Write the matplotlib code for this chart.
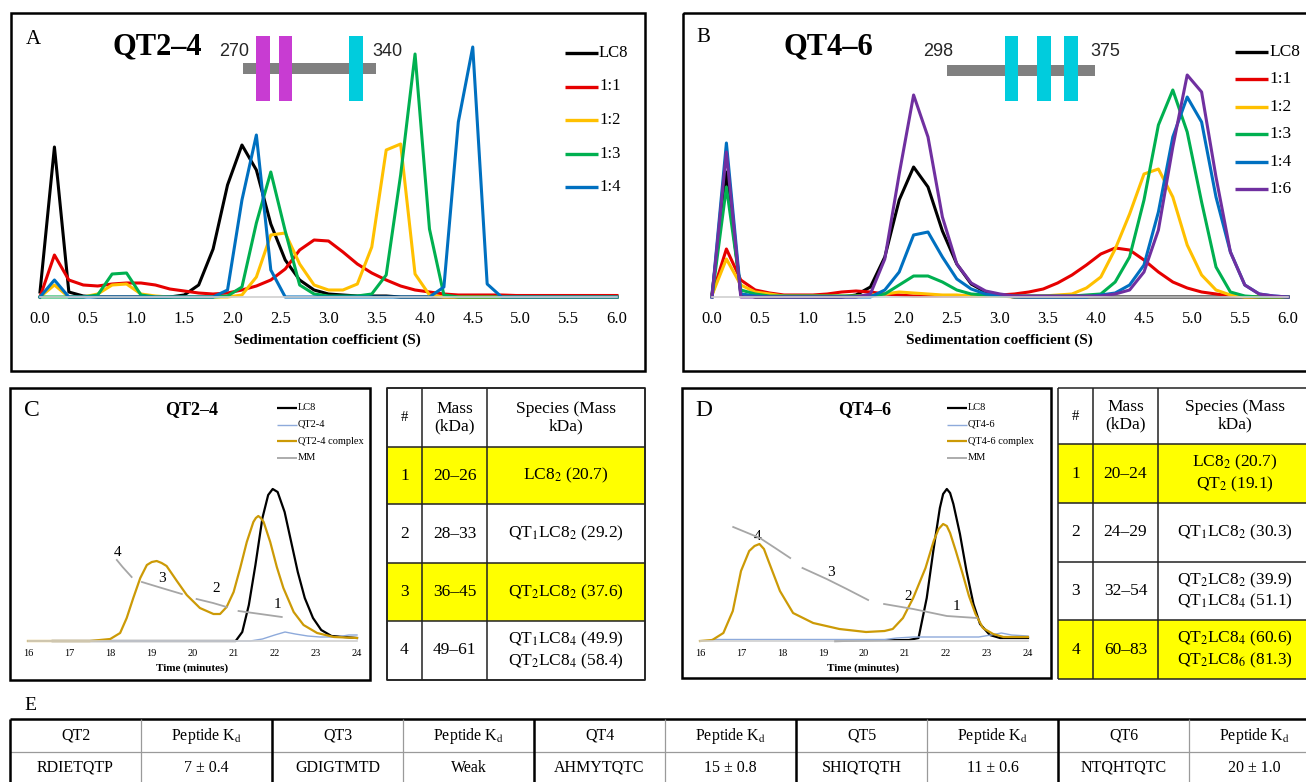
"""
LC8 / QT2-4, QT4-6 binding figure: AUC distributions (A, B), SEC-MALS traces
with species tables (C, D) and peptide affinity table (E)
"""
import numpy as np
import matplotlib
matplotlib.use('Agg')
import matplotlib.pyplot as plt
from matplotlib.patches import Rectangle

plt.rcParams['font.family'] = ['Liberation Serif', 'DejaVu Serif']
plt.rcParams['mathtext.fontset'] = 'stix'

W, H = 1306, 782
nan = np.nan

# ---------------- data: panels A and B (sedimentation coefficient, S) ----------------
sed_s = [0.0, 0.15, 0.3, 0.45, 0.6, 0.75, 0.9, 1.05, 1.2, 1.35,
         1.5, 1.65, 1.8, 1.95, 2.1, 2.25, 2.4, 2.55, 2.7, 2.85,
         3.0, 3.15, 3.3, 3.45, 3.6, 3.75, 3.9, 4.05, 4.2, 4.35,
         4.5, 4.65, 4.8, 4.95, 5.1, 5.25, 5.4, 5.55, 5.7, 5.85, 6.0]
sed_ticks = [0.0, 0.5, 1.0, 1.5, 2.0, 2.5, 3.0, 3.5, 4.0, 4.5, 5.0, 5.5, 6.0]

a_lc8 = [5, 150, 5, 1, 0, 0, 0, 0, 0, 0,
         2, 12, 48, 112, 152, 127, 73, 37, 17, 7,
         3, 2, 1, 1, 1, 0, 0, 0, 0, 0,
         0, 0, 0, 0, 0, 0, 0, 0, 0, 0, 0]
a_r11 = [0, 42, 17, 12, 11, 13, 14, 14, 12, 8,
         6, 4, 3, 4, 7, 11, 17, 28, 47, 57,
         56, 45, 33, 24, 17, 11, 7, 5, 3, 2,
         2, 2, 2, 1.5, 1.5, 1.5, 1.5, 1.5, 1.5, 1.5, 1.5]
a_r12 = [0, 12, 0, 0, 3, 12, 13, 3, 1, 0,
         0, 0, 0, 0, 2, 20, 62, 64, 33, 12,
         7, 7, 13, 50, 147, 153, 23, 2, 0, 0,
         0, 0, 0, 0, 0, 0, 0, 0, 0, 0, 0]
a_r13 = [0, 0, 0, 0, 2, 23, 24, 2, 0, 0,
         0, 0, 0, 1, 10, 74, 125, 66, 12, 3,
         1, 1, 1, 3, 22, 122, 243, 68, 2, 0,
         0, 0, 0, 0, 0, 0, 0, 0, 0, 0, 0]
a_r14 = [0, 17, 0, 0, 0, 0, 0, 0, 0, 0,
         0, 0, 0, 7, 97, 162, 27, 0, 0, 0,
         0, 0, 0, 0, 0, 0, 0, 0, 10, 175,
         250, 13, 0, 0, 0, 0, 0, 0, 0, 0, 0]
a_labels = ['LC8', '1:1', '1:2', '1:3', '1:4']

b_lc8 = [3, 125, 3, 0, 0, 0, 0, 0, 0, 0,
         2, 10, 40, 97, 130, 110, 66, 33, 13, 5,
         2, 0, 0, 0, 0, 0, 0, 0, 0, 0,
         0, 0, 0, 0, 0, 0, 0, 0, 0, 0, 0]
b_r11 = [2, 48, 17, 7, 4, 2, 2, 2, 3, 5,
         6, 5, 3, 2, 1, 1, 1, 1, 1, 1,
         2, 3, 5, 8, 14, 22, 32, 43, 49, 47,
         37, 25, 15, 9, 5, 3, 1, 0.5, 0, 0, 0]
b_r12 = [2, 38, 12, 5, 3, 1, 1, 1, 1, 1,
         1, 2, 3, 5, 4, 3, 2, 2, 1, 1,
         1, 0, 1, 1, 2, 3, 9, 20, 48, 83,
         123, 128, 100, 52, 22, 7, 2, 0, 0, 0, 0]
b_r13 = [0, 110, 7, 3, 1, 1, 1, 1, 1, 1,
         1, 1, 3, 12, 21, 21, 15, 7, 3, 2,
         1, 1, 1, 1, 1, 1, 2, 3, 15, 40,
         97, 172, 207, 165, 95, 30, 5, 1, 0, 0, 0]
b_r14 = [0, 154, 3, 1, 0, 0, 0, 0, 0, 0,
         0, 0, 7, 25, 62, 65, 40, 18, 8, 3,
         2, 0, 0, 0, 0, 0, 0, 2, 4, 12,
         32, 85, 160, 200, 175, 100, 45, 12, 3, 1, 0]
b_r16 = [0, 145, 0, 0, 0, 0, 0, 0, 0, 0,
         0, 3, 38, 123, 202, 160, 80, 33, 14, 6,
         3, 1, 1, 1, 1, 1, 1, 1, 3, 7,
         25, 67, 150, 222, 205, 120, 45, 12, 3, 1, 0]
b_labels = ['LC8', '1:1', '1:2', '1:3', '1:4', '1:6']

ratio_colors = ['#000000', '#e60000', '#ffc000', '#00b050', '#0070c0', '#7030a0']

# construct schematics (residue numbers)
qt24_span = [270, 340]
qt24_motifs = [277, 289, 326]
qt24_motif_colors = ['#c83cd2', '#c83cd2', '#00ccdd']
qt46_span = [298, 375]
qt46_motifs = [328, 345, 359]
qt46_motif_colors = ['#00ccdd', '#00ccdd', '#00ccdd']

# ---------------- data: panels C and D (SEC-MALS, time in minutes) ----------------
time_ticks = [16, 17, 18, 19, 20, 21, 22, 23, 24]

c_t_lc8 = [16.6, 21.05, 21.21, 21.37, 21.53, 21.7, 21.84, 21.95, 22.07, 22.24,
           22.4, 22.56, 22.73, 22.93, 23.13, 23.38, 24.0]
c_lc8 = [0, 0, 9, 36, 76, 123, 146, 152, 149, 129,
         99, 69, 43, 23, 11, 5, 3]
c_t_qt = [16.6, 21.4, 21.7, 22.0, 22.25, 22.5, 22.8, 23.1, 23.5, 23.8, 24.0]
c_qt = [0, 0, 2, 6, 9, 7, 5, 4, 4, 6, 6]
c_t_cplx = [16.0, 17.5, 18.0, 18.24, 18.4, 18.56, 18.73, 18.89, 19.01, 19.13,
            19.25, 19.37, 19.62, 19.86, 20.18, 20.51, 20.67, 20.83, 21.0, 21.16,
            21.32, 21.48, 21.54, 21.6, 21.66, 21.73, 21.89, 22.05, 22.21, 22.46,
            22.7, 23.03, 23.44, 24.0]
c_cplx = [0, 0, 2, 8, 23, 43, 63, 76, 79, 80,
          78, 75, 60, 46, 33, 27, 27, 34, 49, 73,
          99, 119, 123, 125, 123, 119, 99, 74, 53, 29,
          16, 8, 4, 3]
c_t_mm = [18.16, 18.3, 18.52, nan, 18.77, 19.25, 19.74, nan,
          20.1, 20.5, 20.83, nan, 21.12, 21.65, 22.17]
c_mm = [81, 74, 64, nan, 59, 53, 47, nan, 42, 38, 34, nan, 30, 27, 24]

d_t_lc8 = [19.3, 21.1, 21.33, 21.53, 21.69, 21.85, 21.93, 22.02, 22.1, 22.18,
           22.34, 22.5, 22.67, 22.83, 23.07, 23.32, 24.0]
d_lc8 = [0, 1, 3, 43, 90, 133, 147, 152, 148, 137,
         107, 70, 37, 17, 6, 3, 3]
d_t_qt = [16.3, 20.5, 20.8, 21.2, 22.8, 23.1, 23.35, 23.6, 24.0]
d_qt = [1.5, 1.5, 3, 4, 4, 6, 8, 6, 5]
d_t_cplx = [16.0, 16.3, 16.57, 16.8, 17.0, 17.2, 17.33, 17.45, 17.56, 17.67,
            17.95, 18.27, 18.76, 19.4, 20.05, 20.5, 20.7, 20.95, 21.2, 21.5,
            21.7, 21.82, 21.93, 22.02, 22.1, 22.24, 22.4, 22.56, 22.72, 22.9,
            23.15, 23.4, 24.0]
d_cplx = [0, 1, 8, 30, 70, 90, 95, 97, 92, 80,
          50, 28, 18, 12, 9, 10, 12, 23, 43, 73,
          100, 112, 117, 115, 108, 90, 68, 45, 27, 13,
          7, 4, 4]
d_t_mm = [16.81, 17.46, 17.87, 18.2, nan, 18.5, 19.09, 19.58, 20.1, nan,
          20.49, 21.2, 22.02, 22.75]
d_mm = [114, 103, 92, 83, nan, 73, 62, 52, 41, nan, 37, 32, 25, 23]

# species tables
tbl_header = ['#', 'Mass\n(kDa)', 'Species (Mass\nkDa)']
c_peak = ['1', '2', '3', '4']
c_mass = ['20–26', '28–33', '36–45', '49–61']
c_species = [r'LC8$_2$ (20.7)',
             r'QT$_1$LC8$_2$ (29.2)',
             r'QT$_2$LC8$_2$ (37.6)',
             'QT$_1$LC8$_4$ (49.9)\nQT$_2$LC8$_4$ (58.4)']
c_hilite = [True, False, True, False]
d_peak = ['1', '2', '3', '4']
d_mass = ['20–24', '24–29', '32–54', '60–83']
d_species = ['LC8$_2$ (20.7)\nQT$_2$ (19.1)',
             r'QT$_1$LC8$_2$ (30.3)',
             'QT$_2$LC8$_2$ (39.9)\nQT$_1$LC8$_4$ (51.1)',
             'QT$_2$LC8$_4$ (60.6)\nQT$_2$LC8$_6$ (81.3)']
d_hilite = [True, False, False, True]

# panel E
qt_names = ['QT2', 'QT3', 'QT4', 'QT5', 'QT6']
qt_seqs = ['RDIETQTP', 'GDIGTMTD', 'AHMYTQTC', 'SHIQTQTH', 'NTQHTQTC']
qt_kd = ['7 ± 0.4', 'Weak', '15 ± 0.8', '11 ± 0.6', '20 ± 1.0']

# ---------------- figure ----------------
fig = plt.figure(figsize=(W / 100, H / 100), dpi=100)
ov = fig.add_axes([0, 0, 1, 1])
ov.set_xlim(0, W)
ov.set_ylim(H, 0)
ov.axis('off')


def frame(x0, y0, x1, y1, lw=1.8, fc='none', ec='black', z=1):
    ov.add_patch(Rectangle((x0, y0), x1 - x0, y1 - y0, fc=fc, ec=ec, lw=lw,
                           zorder=z, clip_on=False))


def hline(x0, x1, y, lw=1.1, color='#222222'):
    ov.plot([x0, x1], [y, y], color=color, lw=lw, solid_capstyle='butt', clip_on=False)


def vline(x, y0, y1, lw=1.1, color='#222222'):
    ov.plot([x, x], [y0, y1], color=color, lw=lw, solid_capstyle='butt', clip_on=False)


def px_axes(x0, x1, ytop, ybase):
    ax = fig.add_axes([x0 / W, 1 - ybase / H, (x1 - x0) / W, (ybase - ytop) / H])
    ax.patch.set_visible(False)
    for side in ('top', 'right', 'left'):
        ax.spines[side].set_visible(False)
    ax.spines['bottom'].set_color('#d0d0d0')
    ax.spines['bottom'].set_linewidth(1.2)
    ax.set_yticks([])
    return ax


def schematic(span, motifs, colors, x0, x1, ybar, xlab_pad=16):
    scale = (x1 - x0) / (span[1] - span[0])
    ov.add_patch(Rectangle((x0, ybar - 5.5), x1 - x0, 11, fc='#808080', ec='none', zorder=3))
    for m, c in zip(motifs, colors):
        ov.add_patch(Rectangle((x0 + (m - span[0]) * scale, 36), 7 * scale, 65,
                               fc=c, ec='none', zorder=4))
    ov.text(x0 - 9, 52, str(span[0]), ha='center', va='center', fontsize=13,
            family='Liberation Sans', color='#262626')
    ov.text(x1 + xlab_pad, 52, str(span[1]), ha='center', va='center', fontsize=13,
            family='Liberation Sans', color='#262626')


def sed_panel(x0, x1, series, labels, leg_x, leg_y0, leg_dy, leg_fs, xlabel_x):
    ax = px_axes(x0, x1, 37, 297)
    for ys, c in zip(series, ratio_colors):
        ax.plot(sed_s, ys, color=c, lw=2.2, clip_on=False)
    ax.set_xlim(0, 6)
    ax.set_ylim(0, 260)
    ax.set_xticks(sed_ticks)
    ax.set_xticklabels([f'{t:.1f}' for t in sed_ticks])
    ax.tick_params(axis='x', length=0, pad=10, labelsize=12)
    ov.text(xlabel_x, 340, 'Sedimentation coefficient (S)', ha='center', va='center',
            fontsize=11, fontweight='bold')
    for k, (lab, c) in enumerate(zip(labels, ratio_colors)):
        y = leg_y0 + k * leg_dy
        ov.plot([leg_x - 33, leg_x], [y, y], color=c, lw=2.4, solid_capstyle='butt')
        ov.text(leg_x + 1, y, lab, ha='left', va='center', fontsize=leg_fs)


def sec_panel(x0, x1, traces, legend, leg_x, xlabel_x, mm, labels):
    ax = px_axes(x0, x1, 466, 641)
    for (t, h, c, lw) in traces:
        ax.plot(t, h, color=c, lw=lw, clip_on=False)
    ax.plot(mm[0], mm[1], color='#a6a6a6', lw=1.3, clip_on=False)
    ax.set_xlim(16, 24)
    ax.set_ylim(0, 175)
    ax.set_xticks(time_ticks)
    ax.tick_params(axis='x', length=0, pad=6, labelsize=7.5)
    ov.text(xlabel_x, 668, 'Time (minutes)', ha='center', va='center', fontsize=8,
            fontweight='bold')
    for k, (lab, (t, h, c, lw)) in enumerate(zip(legend, traces + [(None, None, '#a6a6a6', 1.3)])):
        y = 408 + k * 16.5
        ov.plot([leg_x - 20, leg_x], [y, y], color=c, lw=lw, solid_capstyle='butt')
        ov.text(leg_x + 1, y, lab, ha='left', va='center', fontsize=7.5)
    for lab, (px, py) in zip(['4', '3', '2', '1'], labels):
        ov.text(px, py, lab, ha='center', va='center', fontsize=11, zorder=6)


def species_table(x_edges, y_edges, peaks, mass, species, hilite):
    for r, on in enumerate(hilite):
        if on:
            ov.add_patch(Rectangle((x_edges[0], y_edges[r + 1]), x_edges[-1] - x_edges[0],
                                   y_edges[r + 2] - y_edges[r + 1], fc='#ffff00', ec='none',
                                   zorder=1))
    for y in y_edges:
        hline(x_edges[0], x_edges[-1], y)
    for x in x_edges:
        vline(x, y_edges[0], y_edges[-1])
    cx = [(x_edges[i] + x_edges[i + 1]) / 2 for i in range(3)]
    yc = (y_edges[0] + y_edges[1]) / 2
    ov.text(cx[0], yc, tbl_header[0], ha='center', va='center', fontsize=10.5)
    for i in (1, 2):
        ov.text(cx[i], yc, tbl_header[i], ha='center', va='center', fontsize=12.5,
                linespacing=1.1)
    for r in range(4):
        yc = (y_edges[r + 1] + y_edges[r + 2]) / 2
        for i, txt in enumerate([peaks[r], mass[r], species[r]]):
            ov.text(cx[i], yc, txt, ha='center', va='center', fontsize=12.5,
                    linespacing=1.15, zorder=3)


# ---- panel A
frame(11, 13, 645, 371)
ov.text(33, 40, 'A', ha='center', va='center', fontsize=15)
ov.text(157, 47, 'QT2–4', ha='center', va='center', fontsize=22, fontweight='bold')
schematic(qt24_span, qt24_motifs, qt24_motif_colors, 243, 376, 68.5, xlab_pad=11)
sed_panel(40, 617, [a_lc8, a_r11, a_r12, a_r13, a_r14], a_labels,
          598, 53, 33.5, 12, 327)

# ---- panel B
frame(683, 13, 1320, 371)
ov.text(703, 38, 'B', ha='center', va='center', fontsize=15)
ov.text(828, 47, 'QT4–6', ha='center', va='center', fontsize=22, fontweight='bold')
schematic(qt46_span, qt46_motifs, qt46_motif_colors, 947, 1095, 70, xlab_pad=10)
sed_panel(712, 1288, [b_lc8, b_r11, b_r12, b_r13, b_r14, b_r16], b_labels,
          1268, 52, 27.4, 12.5, 999)

# ---- panel C
frame(10, 388, 370, 680)
ov.text(32, 410, 'C', ha='center', va='center', fontsize=17)
ov.text(192, 410, 'QT2–4', ha='center', va='center', fontsize=13, fontweight='bold')
sec_panel(28, 357,
          [(c_t_lc8, c_lc8, 'black', 1.6), (c_t_qt, c_qt, '#8eaadb', 1.0),
           (c_t_cplx, c_cplx, '#cc9a06', 1.6)],
          ['LC8', 'QT2-4', 'QT2-4 complex', 'MM'], 297, 192,
          (c_t_mm, c_mm), [(118, 552), (162, 578), (216, 589), (277, 605)])
frame(387, 388, 645, 680, lw=1.1, ec='#222222', z=2)
species_table([387, 422, 487, 645], [388, 447, 504, 563, 621, 680],
              c_peak, c_mass, c_species, c_hilite)

# ---- panel D
frame(682, 388, 1051, 678)
ov.text(704, 410, 'D', ha='center', va='center', fontsize=17)
ov.text(865, 410, 'QT4–6', ha='center', va='center', fontsize=13, fontweight='bold')
sec_panel(700, 1028,
          [(d_t_lc8, d_lc8, 'black', 1.6), (d_t_qt, d_qt, '#8eaadb', 1.0),
           (d_t_cplx, d_cplx, '#cc9a06', 1.6)],
          ['LC8', 'QT4-6', 'QT4-6 complex', 'MM'], 967, 863,
          (d_t_mm, d_mm), [(758, 537), (831, 572), (908, 596), (956, 606)])
species_table([1058, 1093, 1158, 1312], [388, 444, 503, 562, 620, 679],
              d_peak, d_mass, d_species, d_hilite)

# ---- panel E
ov.text(30, 706, 'E', ha='center', va='center', fontsize=14)
col_w = 131
e_x0, e_top, e_mid, e_bot = 10, 719, 752, 786
hline(e_x0, e_x0 + 10 * col_w, e_top, lw=1.8, color='black')
hline(e_x0, e_x0 + 10 * col_w, e_mid, lw=0.9, color='#9a9a9a')
for k in range(11):
    x = e_x0 + k * col_w
    if k % 2 == 0:
        vline(x, e_top, e_bot, lw=1.8, color='black')
    else:
        vline(x, e_top, e_bot, lw=0.9, color='#9a9a9a')
for k, (name, seq, kd) in enumerate(zip(qt_names, qt_seqs, qt_kd)):
    xa = e_x0 + (2 * k + 0.5) * col_w
    xb = e_x0 + (2 * k + 1.5) * col_w
    ov.text(xa, 736, name, ha='center', va='center', fontsize=11.5)
    ov.text(xb, 736, r'Peptide K$_{\rm d}$', ha='center', va='center', fontsize=11.5)
    ov.text(xa, 768, seq, ha='center', va='center', fontsize=11.5)
    ov.text(xb, 768, kd, ha='center', va='center', fontsize=11.5)

fig.savefig('out.png', dpi=100)
print("saved out.png")
